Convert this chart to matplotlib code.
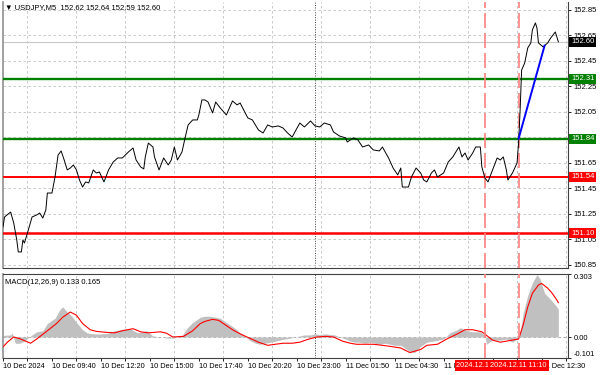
import matplotlib
matplotlib.use("Agg")
import matplotlib.pyplot as plt
from matplotlib.transforms import blended_transform_factory

plt.rcParams['font.family'] = ['Liberation Sans', 'DejaVu Sans']

# ---- price data (bar index, close) ----
bars = [0, 1, 5, 7, 9, 10, 12, 13, 14, 16, 19, 22, 24, 26, 28, 29, 32, 34, 36, 38,
        40, 42, 44, 46, 48, 50, 52, 54, 56, 59, 61, 63, 66, 69, 72, 75, 78, 82, 85, 87,
        90, 92, 93, 95, 98, 99, 102, 105, 108, 110, 112, 114, 117, 119, 121, 124, 127, 128, 130, 132,
        134, 137, 139, 142, 146, 150, 153, 155, 158, 160, 163, 167, 170, 173, 176, 180, 183, 186, 189, 194,
        197, 201, 204, 207, 210, 214, 216, 220, 224, 225, 229, 232, 235, 239, 242, 246, 248, 252, 255, 258,
        260, 261, 265, 267, 270, 273, 275, 277, 280, 282, 284, 288, 291, 294, 298, 300, 302, 304, 307, 309,
        312, 313, 315, 317, 320, 323, 325, 327, 329, 330, 333, 336, 337, 338, 339, 341, 343, 345, 346, 348,
        349, 350, 353, 356, 358, 361, 363]
prices = [151.148, 151.226, 151.265, 151.179, 151.046, 150.952, 150.952, 151.046, 151.022, 151.101,
          151.226, 151.242, 151.257, 151.218, 151.281, 151.414, 151.414, 151.540, 151.712, 151.744,
          151.673, 151.595, 151.610, 151.634, 151.595, 151.516, 151.461, 151.501, 151.493, 151.595,
          151.571, 151.579, 151.501, 151.595, 151.657, 151.689, 151.689, 151.736, 151.767, 151.673,
          151.618, 151.603, 151.697, 151.806, 151.775, 151.697, 151.595, 151.689, 151.634, 151.673,
          151.775, 151.673, 151.736, 151.846, 151.948, 151.987, 151.987, 152.026, 152.144, 152.144,
          152.128, 152.042, 152.128, 152.081, 152.026, 152.136, 152.105, 152.120, 152.050, 152.003,
          151.987, 151.908, 151.885, 151.948, 151.932, 151.940, 151.924, 151.885, 151.853, 151.963,
          151.932, 151.979, 151.940, 151.932, 151.963, 151.948, 151.893, 151.861, 151.846, 151.814,
          151.846, 151.830, 151.775, 151.791, 151.752, 151.744, 151.775, 151.689, 151.610, 151.556,
          151.610, 151.461, 151.461, 151.540, 151.610, 151.571, 151.516, 151.501, 151.571, 151.595,
          151.540, 151.571, 151.657, 151.697, 151.775, 151.697, 151.728, 151.673, 151.728, 151.775,
          151.775, 151.618, 151.532, 151.501, 151.595, 151.689, 151.673, 151.697, 151.595, 151.516,
          151.571, 151.650, 151.806, 152.065, 152.379, 152.434, 152.552, 152.591, 152.693, 152.748,
          152.708, 152.591, 152.560, 152.591, 152.630, 152.677, 152.600]

# blue trend line
blue_x = [337, 354]
blue_y = [151.84, 152.57]

# horizontal levels
green_levels = [152.31, 151.84]
red_levels = [151.54, 151.10]
last_price = 152.60

# vertical markers
vline_bars = [315, 337]
vline_labels = ["2024.12.11 09:20", "2024.12.11 11:10"]
day_sep_bar = 204

# ---- MACD data ----
hist_x = [0, 1, 5, 6, 8, 11, 14, 18, 22, 26, 29, 34, 37, 39, 42, 45, 48, 52, 55, 59,
          63, 68, 73, 78, 83, 88, 91, 94, 98, 103, 107, 111, 117, 120, 124, 129, 132, 135, 139, 142,
          145, 148, 152, 155, 158, 161, 165, 168, 171, 175, 178, 181, 184, 188, 191, 194, 197, 201, 204, 207,
          211, 214, 217, 220, 224, 227, 230, 233, 237, 240, 243, 246, 250, 253, 256, 260, 266, 269, 273, 277,
          281, 288, 292, 297, 299, 303, 307, 312, 315, 316, 320, 325, 329, 333, 336, 338, 340, 343, 346, 349,
          351, 354, 358, 362, 363]
hist_v = [0.005, 0.008, 0.01, 0.02, -0.03, -0.03, -0.02, 0.005, 0.025, 0.03, 0.065, 0.09, 0.13, 0.145, 0.12,
          0.10, 0.07, 0.035, 0.02, 0.015, 0.015, 0.017, 0.03, 0.037, 0.04, 0.02, 0.025, 0.03, 0.005, 0.0,
          -0.005, -0.005, 0.005, 0.04, 0.07, 0.095, 0.10, 0.10, 0.095, 0.09, 0.075, 0.06, 0.04, 0.02, 0.005,
          -0.015, -0.03, -0.035, -0.03, -0.025, -0.02, -0.015, -0.01, -0.005, 0.0, 0.005, 0.01, 0.01, 0.015,
          0.012, 0.015, 0.012, 0.01, 0.0, -0.01, -0.02, -0.025, -0.025, -0.03, -0.025, -0.03, -0.035, -0.03,
          -0.035, -0.04, -0.04, -0.07, -0.075, -0.045, -0.025, -0.02, -0.01, 0.02, 0.035, 0.045, 0.03, 0.025,
          0.025, 0.008, -0.035, -0.015, -0.015, -0.01, -0.025, -0.01, 0.02, 0.115, 0.20, 0.26, 0.30, 0.28,
          0.21, 0.18, 0.145, 0.133]
sig_x = [0, 3, 7, 11, 18, 22, 29, 35, 39, 44, 48, 52, 57, 61, 68, 73, 78, 85, 90, 95,
         103, 107, 111, 118, 124, 129, 132, 137, 141, 145, 150, 155, 161, 167, 173, 178, 183, 189, 194, 199,
         205, 211, 216, 222, 227, 231, 237, 242, 248, 253, 260, 266, 273, 277, 284, 290, 297, 302, 307, 313,
         316, 320, 325, 329, 335, 337, 340, 343, 346, 350, 352, 356, 359, 362, 363]
sig_v = [-0.048, -0.024, 0.0, -0.008, -0.03, -0.01, 0.03, 0.065, 0.095, 0.12, 0.105, 0.065, 0.035, 0.027,
         0.022, 0.02, 0.03, 0.04, 0.025, 0.02, 0.025, 0.018, 0.0, 0.003, 0.03, 0.065, 0.075, 0.085, 0.08,
         0.06, 0.035, 0.015, -0.005, -0.025, -0.04, -0.035, -0.03, -0.03, -0.025, -0.012, 0.0, 0.003, 0.0,
         -0.02, -0.03, -0.035, -0.035, -0.035, -0.04, -0.045, -0.053, -0.075, -0.06, -0.04, -0.035, -0.01,
         0.015, 0.035, 0.035, 0.025, 0.008, -0.015, -0.025, -0.02, -0.012, -0.01, 0.058, 0.145, 0.21, 0.25,
         0.258, 0.235, 0.21, 0.178, 0.165]

price_ticks = [150.85, 151.05, 151.25, 151.45, 151.65, 151.85, 152.05, 152.25, 152.45, 152.65, 152.85]
macd_ticks = [-0.101, 0.0, 0.303]
macd_tick_labels = ["-0.101", "0.00", "0.303"]
time_tick_bars = [0, 32, 64, 96, 128, 160, 192, 224, 256, 288, 320, 352]
time_tick_labels = ["10 Dec 2024", "10 Dec 09:40", "10 Dec 12:20", "10 Dec 15:00", "10 Dec 17:40",
                    "10 Dec 20:20", "10 Dec 23:00", "11 Dec 01:50", "11 Dec 04:30", "11 Dec 07:10",
                    "11 Dec 09:50", "11 Dec 12:30"]
title_text = "\u25bc USDJPY,M5  152.62 152.64 152.59 152.60"
macd_text = "MACD(12,26,9) 0.133 0.165"

FS = 5.5
GRID = '#c0c0c0'
SPINE = '#404040'

fig = plt.figure(figsize=(6, 3.75), dpi=100)
fig.patch.set_facecolor('white')
ax = fig.add_axes([3/600, 1-268/375, 565/600, 266/375])
axm = fig.add_axes([3/600, 1-358/375, 565/600, 84/375])

for a in (ax, axm):
    a.set_xlim(0, 369.3)
    a.set_xticks(list(range(0, 370, 16)), minor=True)
    a.grid(True, which='minor', axis='x', color=GRID, ls=(0, (3, 3)), lw=0.6)
    for s in a.spines.values():
        s.set_color(SPINE)
        s.set_linewidth(0.8)
    a.spines['left'].set_color('#909090')
    a.spines['left'].set_linewidth(1.2)
    for b in vline_bars:
        a.axvline(b, color='#ff7f7f', lw=1.2, ls=(0, (9, 3)), zorder=4)
    a.axvline(day_sep_bar, color='#404040', lw=0.7, ls=(0, (1, 1.5)), zorder=1.5)
ax.spines['top'].set_visible(False)

# ---- main panel ----
ax.set_ylim(150.826, 152.912)
ax.yaxis.tick_right()
ax.set_yticks(price_ticks)
ax.set_yticklabels([f"{p:.2f}" for p in price_ticks], fontsize=FS)
ax.tick_params(axis='y', length=2.5, width=0.6, pad=1.5, colors='black')
ax.grid(True, which='major', axis='y', color=GRID, ls=(0, (3, 3)), lw=0.6)
ax.set_xticks(time_tick_bars)
ax.tick_params(axis='x', which='both', length=0, labelbottom=False)

ax.axhline(last_price, color='#c8c8c8', lw=0.8, zorder=2)
for lv in green_levels:
    ax.axhline(lv, color='#008000', lw=1.7, zorder=3)
for lv, w in zip(red_levels, [1.4, 1.8]):
    ax.axhline(lv, color='#ff0000', lw=w, zorder=3)

ax.plot(bars, prices, color='black', lw=0.7, zorder=5)
ax.plot(blue_x, blue_y, color='#0000ff', lw=1.4, zorder=6)

trans = blended_transform_factory(ax.transAxes, ax.transData)
box_items = [(lv, '#008000') for lv in green_levels] + [(lv, '#ff0000') for lv in red_levels] + [(last_price, 'black')]
for lv, col in box_items:
    ax.annotate(f"{lv:.2f}", xy=(1, lv), xycoords=trans, xytext=(2.2, 0), textcoords='offset points',
                ha='left', va='center', fontsize=FS, color='white', annotation_clip=False, zorder=20,
                bbox=dict(boxstyle='square,pad=0.22', fc=col, ec='none'))

fig.text(5/600, 1-8/375, title_text, fontsize=FS, va='center', ha='left', color='black')

# ---- MACD panel ----
axm.set_ylim(-0.101, 0.303)
axm.fill_between(hist_x, hist_v, 0, color='#c0c0c0', lw=0, zorder=2)
axm.plot(sig_x, sig_v, color='#ff0000', lw=0.8, zorder=3)
axm.axhline(0, color='#a0a0a0', lw=0.6, ls=(0, (3, 3)), zorder=1)
axm.yaxis.tick_right()
axm.set_yticks(macd_ticks)
ylabs = axm.set_yticklabels(macd_tick_labels, fontsize=FS)
ylabs[0].set_va('bottom')
ylabs[2].set_va('top')
axm.tick_params(axis='y', length=2.5, width=0.6, pad=1.5)
axm.set_xticks(time_tick_bars)
xl = axm.set_xticklabels(time_tick_labels, fontsize=FS - 0.2)
for t in xl:
    t.set_ha('left')
axm.tick_params(axis='x', length=2, width=0.6, pad=1.5)
fig.text(5/600, 1-283/375, macd_text, fontsize=FS, va='center', ha='left', color='black')

transm = blended_transform_factory(axm.transData, axm.transAxes)
for b, lab in zip(vline_bars, vline_labels):
    axm.annotate(lab, xy=(b, 0), xycoords=transm, xytext=(0, -5.6), textcoords='offset points',
                 ha='center', va='center', fontsize=FS - 0.2, color='white', annotation_clip=False,
                 zorder=20, bbox=dict(boxstyle='square,pad=0.25', fc='#ff0000', ec='none'))

fig.savefig('out.png', dpi=100, facecolor='white')
